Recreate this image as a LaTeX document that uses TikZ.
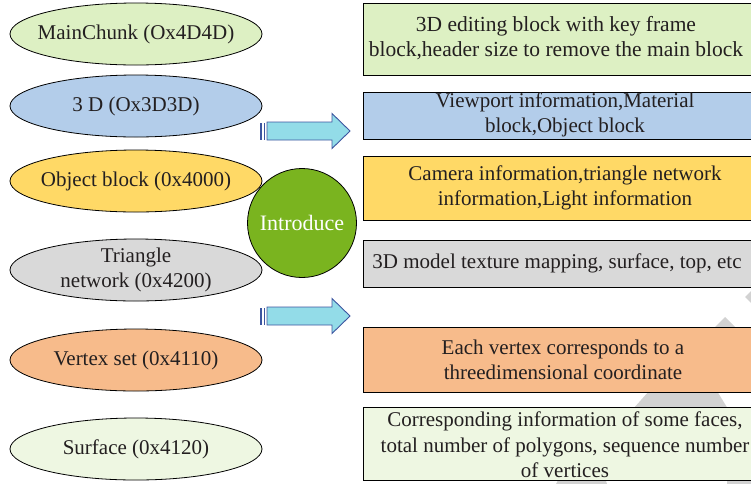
\documentclass[tikz,border=0pt]{standalone}
\usepackage{fontspec}
\setmainfont{Liberation Serif}
\usetikzlibrary{shapes.geometric}

\definecolor{txt}{HTML}{231F20}
\definecolor{cgreen}{HTML}{DDF0C3}
\definecolor{cblue}{HTML}{B3CDEA}
\definecolor{cyellow}{HTML}{FFD966}
\definecolor{cgray}{HTML}{D9D9D9}
\definecolor{corange}{HTML}{F7BB8B}
\definecolor{cpale}{HTML}{EEF7E2}
\definecolor{cball}{HTML}{7AB41F}
\definecolor{arrfill}{HTML}{93DCE8}
\definecolor{arrline}{HTML}{3D55A0}
\definecolor{bgshade}{HTML}{D2D2D2}

\begin{document}
\begin{tikzpicture}[x=1pt,y=-1pt,
  txtfont/.style={font=\fontsize{21}{25.5}\selectfont, text=txt},
  oval/.style={ellipse, draw=black, line width=0.8pt, minimum width=252pt,
    minimum height=62pt, inner sep=0pt},
  ovaltext/.style={align=center, inner sep=0pt, txtfont},
  infobox/.style={rectangle, draw=black, line width=0.8pt, inner sep=0pt,
    anchor=north west, minimum width=392pt},
  boxtext/.style={align=center, inner sep=0pt, txtfont},
  bigarrow/.style={fill=arrfill, draw=arrline, line width=0.9pt, line join=miter},
  stripe/.style={fill=arrline, draw=none}]

\path[use as bounding box] (0,0) rectangle (751,483);
\clip (0,0) rectangle (751,483);

% faint background pattern behind the right column
\fill[bgshade] (725,317) -- (745,337) -- (705,337) -- cycle;
\fill[bgshade] (745,297) -- (753,289) -- (753,305) -- cycle;
\fill[bgshade] (649,391) -- (717,391) -- (728,409) -- (633,409) -- cycle;
\fill[bgshade] (559,478) -- (605,478) -- (607,484) -- (556,484) -- cycle;
\fill[bgshade] (727,478) rectangle (753,484);

% left column: chunk ellipses
\node[oval, fill=cgreen]  (e1) at (136,34)  {};
\node[oval, fill=cblue]   (e2) at (136,106) {};
\node[oval, fill=cyellow] (e3) at (136,181) {};
\node[oval, fill=cgray]   (e4) at (136,270) {};
\node[oval, fill=corange] (e5) at (136,360) {};
\node[oval, fill=cpale]   (e6) at (136,449) {};
\node[ovaltext] (l1) at (e1) {MainChunk (Ox4D4D)};
\node[ovaltext] (l2) at (e2) {3 D (Ox3D3D)};
\node[ovaltext] (l3) at (e3) {Object block (0x4000)};
\node[ovaltext] (l4) at (e4) {Triangle\\network (0x4200)};
\node[ovaltext] (l5) at (e5) {Vertex set (0x4110)};
\node[ovaltext] (l6) at (e6) {Surface (0x4120)};

% central ball
\node[circle, draw=black, line width=0.8pt, fill=cball, minimum size=109pt,
  inner sep=0pt, font=\fontsize{22}{26}\selectfont, text=white] (intro) at (302,223) {Introduce};

% right column: description boxes
\node[infobox, fill=cgreen,  minimum height=72pt] (b1) at (363,3)   {};
\node[infobox, fill=cblue,   minimum height=47pt] (b2) at (363,92)  {};
\node[infobox, fill=cyellow, minimum height=64pt] (b3) at (363,156) {};
\node[infobox, fill=cgray,   minimum height=47pt] (b4) at (363,240) {};
\node[infobox, fill=corange, minimum height=65pt] (b5) at (363,327) {};
\node[infobox, fill=cpale,   minimum height=73pt] (b6) at (363,407) {};

\node[boxtext, font=\fontsize{21.5}{25.5}\selectfont] (t1) at (556,38)
  {3D editing block with key frame\\block,header size to remove the main block};
\node[boxtext] (t2) at (565,115) {Viewport information,Material\\block,Object block};
\node[boxtext] (t3) at (565,188) {Camera information,triangle network\\information,Light information};
\node[boxtext] (t4) at (557,263) {3D model texture mapping, surface, top, etc};
\node[boxtext] (t5) at (563,360) {Each vertex corresponds to a\\threedimensional coordinate};
\node[boxtext] (t6) at (565,445) {Corresponding information of some faces,\\total number of polygons, sequence number\\of vertices};

% striped block arrows
\foreach \cy/\nm in {131/a1, 316/a2}{
  \coordinate (\nm) at (260,\cy);
  \fill[stripe] ([xshift=0pt,yshift=-8.5pt]\nm) rectangle ([xshift=2pt,yshift=8.5pt]\nm);
  \fill[stripe] ([xshift=3.5pt,yshift=-8.5pt]\nm) rectangle ([xshift=5pt,yshift=8.5pt]\nm);
  \draw[bigarrow] ([xshift=7pt,yshift=-9pt]\nm) -- ([xshift=72pt,yshift=-9pt]\nm)
    -- ([xshift=72pt,yshift=-17.5pt]\nm) -- ([xshift=90pt]\nm)
    -- ([xshift=72pt,yshift=17.5pt]\nm) -- ([xshift=72pt,yshift=9pt]\nm)
    -- ([xshift=7pt,yshift=9pt]\nm) -- cycle;
}
\end{tikzpicture}
\end{document}
